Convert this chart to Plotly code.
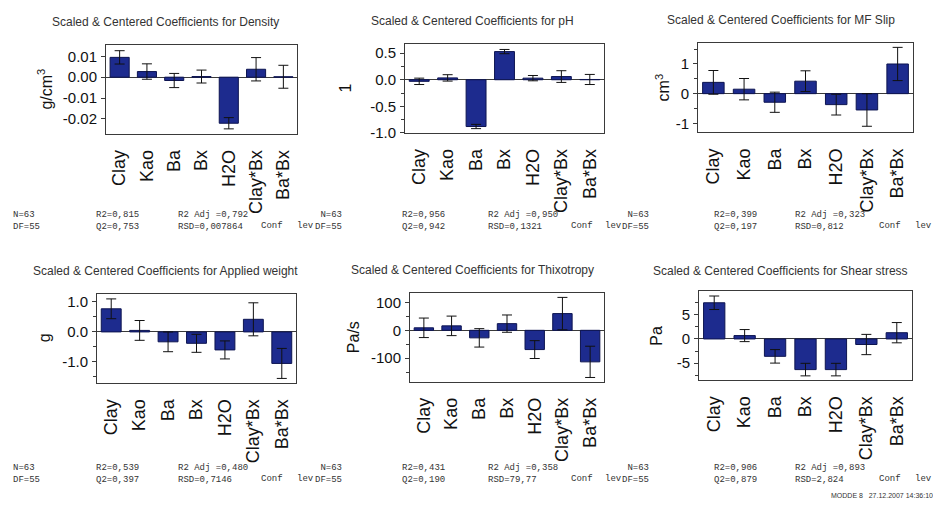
import plotly.graph_objects as go

W, H = 933, 513

terms = ["Clay", "Kao", "Ba", "Bx", "H2O", "Clay*Bx", "Ba*Bx"]

# Scaled & centred coefficients and their confidence half-widths
density_coef = [0.0095, 0.0027, -0.0016, 0.0003, -0.0221, 0.0038, 0.0002]
density_ci = [0.0032, 0.0037, 0.0034, 0.0031, 0.0027, 0.0056, 0.0055]
ph_coef = [-0.03, 0.035, -0.88, 0.53, 0.03, 0.06, 0.005]
ph_ci = [0.06, 0.06, 0.04, 0.04, 0.05, 0.11, 0.095]
mfslip_coef = [0.38, 0.15, -0.29, 0.42, -0.37, -0.55, 1.0]
mfslip_ci = [0.40, 0.36, 0.34, 0.35, 0.35, 0.55, 0.56]
weight_coef = [0.77, 0.05, -0.33, -0.38, -0.60, 0.42, -1.05]
weight_ci = [0.33, 0.33, 0.33, 0.30, 0.30, 0.55, 0.50]
thixo_coef = [9, 16, -27, 24, -69, 60, -113]
thixo_ci = [35, 35, 33, 31, 32, 58, 56]
shear_coef = [7.5, 0.7, -3.6, -6.35, -6.35, -1.15, 1.3]
shear_ci = [1.4, 1.25, 1.4, 1.3, 1.3, 2.1, 2.1]

responses = ["Density", "pH", "MF Slip", "Applied weight", "Thixotropy", "Shear stress"]
units = ["g/cm<sup>3</sup>", "1", "cm<sup>3</sup>", "g", "Pa/s", "Pa"]

# Model summary statistics per response
stat_n = ["63", "63", "63", "63", "63", "63"]
stat_df = ["55", "55", "55", "55", "55", "55"]
stat_r2 = ["0,815", "0,956", "0,399", "0,539", "0,431", "0,906"]
stat_q2 = ["0,753", "0,942", "0,197", "0,397", "0,190", "0,879"]
stat_r2adj = ["0,792", "0,950", "0,323", "0,480", "0,358", "0,893"]
stat_rsd = ["0,007864", "0,1321", "0,812", "0,7146", "79,77", "2,824"]

# Tick values / labels per panel
yticks = [
    [0.01, 0.0, -0.01, -0.02],
    [0.5, 0.0, -0.5, -1.0],
    [1, 0, -1],
    [1.0, 0.0, -1.0],
    [100, 0, -100],
    [5, 0, -5],
]
yticklabels = [
    ["0.01", "0.00", "-0.01", "-0.02"],
    ["0.5", "0.0", "-0.5", "-1.0"],
    ["1", "0", "-1"],
    ["1.0", "0.0", "-1.0"],
    ["100", "0", "-100"],
    ["5", "0", "-5"],
]

coefs = [density_coef, ph_coef, mfslip_coef, weight_coef, thixo_coef, shear_coef]
cis = [density_ci, ph_ci, mfslip_ci, weight_ci, thixo_ci, shear_ci]

# Layout of each panel in pixels: plot box (left, right, top, bottom), y range,
# minor tick step, title centre, unit label x
panels = [
    dict(box=(106, 297, 46, 136), yr=(-0.0272, 0.0153), minor=None, tx=165, ty=22.5, ux=45),
    dict(box=(405, 604, 45, 135), yr=(-1.0, 0.667), minor=0.25, tx=473, ty=21.5, ux=346),
    dict(box=(698, 913, 43.3, 134.3), yr=(-1.3, 1.72), minor=0.5, tx=781, ty=20.5, ux=663),
    dict(box=(97, 296, 298.3, 389), yr=(-1.7, 1.275), minor=0.5, tx=165, ty=275, ux=44),
    dict(box=(410, 604, 297.3, 387.7), yr=(-184, 135), minor=50, tx=473, ty=274, ux=353),
    dict(box=(699, 912, 296, 386), yr=(-8.5, 9.86), minor=2.5, tx=780, ty=275, ux=657),
]


def px(x):
    return x / W


def py(y):
    return 1 - y / H


fig = go.Figure()
annotations = []
bar_color = "#1d2b8e"
frame_color = "#3a3a3a"

for i, p in enumerate(panels):
    n = i + 1
    xa = "x" if n == 1 else f"x{n}"
    ya = "y" if n == 1 else f"y{n}"
    fig.add_trace(go.Bar(
        x=terms, y=coefs[i], xaxis=xa, yaxis=ya, width=0.7,
        marker=dict(color=bar_color, line=dict(color="#0d1450", width=1)),
        error_y=dict(type="data", array=cis[i], visible=True,
                     color="#111111", thickness=1, width=5),
        showlegend=False, hoverinfo="x+y",
    ))
    l, r, t, b = p["box"]
    xkey = "xaxis" if n == 1 else f"xaxis{n}"
    ykey = "yaxis" if n == 1 else f"yaxis{n}"
    yax = dict(
        domain=[py(b), py(t)], anchor=xa, range=list(p["yr"]),
        tickvals=yticks[i], ticktext=yticklabels[i],
        ticks="outside", ticklen=4, tickcolor=frame_color, tickwidth=1,
        showline=True, linecolor=frame_color, linewidth=1, mirror=True,
        showgrid=False, zeroline=True, zerolinecolor=frame_color, zerolinewidth=1,
        tickfont=dict(family="Liberation Sans, Arial", size=15, color="#111"),
        ticklabelstandoff=1,
    )
    if p["minor"]:
        yax["minor"] = dict(ticks="outside", ticklen=3, tickcolor=frame_color, dtick=p["minor"])
    fig.update_layout({
        xkey: dict(
            domain=[px(l), px(r)], anchor=ya, type="category",
            range=[-0.5, 6.5], tickangle=-90, ticks="",
            showline=True, linecolor=frame_color, linewidth=1, mirror=True,
            showgrid=False, zeroline=False,
            tickfont=dict(family="Liberation Sans, Arial", size=18, color="#111"),
            ticklabelstandoff=8,
        ),
        ykey: yax,
    })
    annotations.append(dict(
        text=f"Scaled & Centered Coefficients for {responses[i]}",
        x=px(p["tx"]), y=py(p["ty"]), xref="paper", yref="paper",
        xanchor="center", yanchor="middle", showarrow=False,
        font=dict(family="Liberation Sans, Arial", size=12, color="#333"),
    ))
    annotations.append(dict(
        text=units[i], textangle=-90,
        x=px(p["ux"]), y=py((t + b) / 2), xref="paper", yref="paper",
        xanchor="center", yanchor="middle", showarrow=False,
        font=dict(family="Liberation Sans, Arial", size=16, color="#111"),
    ))

# Model statistics beneath each row of panels (two-line monospace printout)
mono = dict(family="Liberation Mono, Courier New", size=9, color="#333")
col_x = [(11, 94, 176), (313, 400, 486), (620, 712, 793)]
conf_x = [(259, 295), (569, 603), (877, 913)]
row_y = [(220, 228.5), (476.5, 486.5)]
nb = "\u00a0"
for i in range(6):
    row, col = divmod(i, 3)
    y1, y2 = row_y[row]
    ymid = (y1 + y2) / 2
    xn, xr, xa_ = col_x[col]
    lead = "" if col == 0 else nb
    blocks = [
        (f"{lead}N={stat_n[i]}<br>DF={stat_df[i]}", xn),
        (f"R2={stat_r2[i]}<br>Q2={stat_q2[i]}", xr),
        (f"R2 Adj ={stat_r2adj[i]}<br>RSD={stat_rsd[i]}", xa_),
    ]
    for txt, x in blocks:
        annotations.append(dict(
            text=txt, x=px(x), y=py(ymid), xref="paper", yref="paper",
            xanchor="left", yanchor="middle", align="left", showarrow=False,
            font=mono,
        ))
    for txt, x in (("Conf", conf_x[col][0]), ("lev", conf_x[col][1])):
        annotations.append(dict(
            text=txt, x=px(x), y=py(ymid + 5.5), xref="paper", yref="paper",
            xanchor="left", yanchor="middle", showarrow=False, font=mono,
        ))

annotations.append(dict(
    text="MODDE 8   27.12.2007 14:36:10", x=px(829), y=py(503),
    xref="paper", yref="paper", xanchor="left", yanchor="middle",
    showarrow=False, font=dict(family="Liberation Sans, Arial", size=7, color="#333"),
))

fig.update_layout(
    width=W, height=H, margin=dict(l=0, r=0, t=0, b=0),
    paper_bgcolor="white", plot_bgcolor="white",
    annotations=annotations, bargap=0.3,
)

fig.write_html("out.html")
